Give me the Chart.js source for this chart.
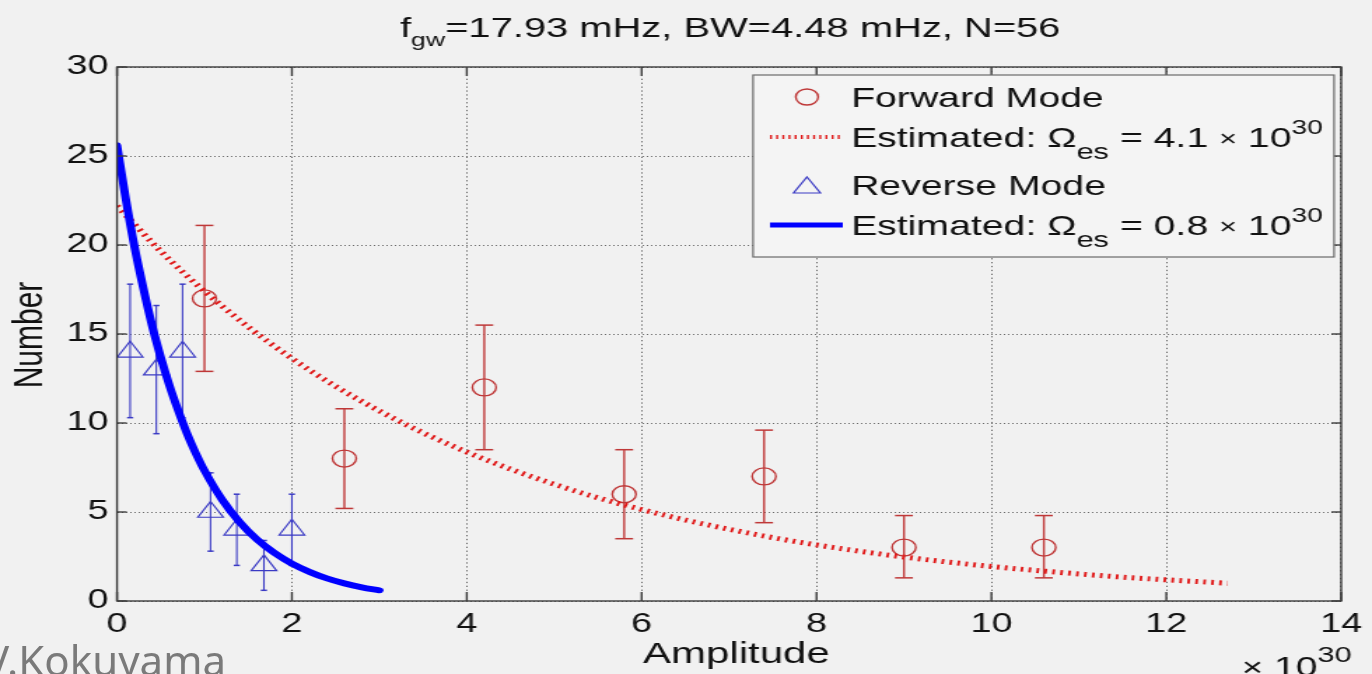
<!DOCTYPE html>
<html><head><meta charset="utf-8">
<script src="https://cdn.jsdelivr.net/npm/chart.js@4.4.1/dist/chart.umd.min.js"></script>
<style>
html,body{margin:0;padding:0;width:1372px;height:674px;overflow:hidden;background:#f1f1f1;}
#wrap{position:absolute;left:0;top:0;width:980px;height:674px;transform:scaleX(1.4);transform-origin:0 0;}
#c{display:block;}
#mark{position:absolute;left:-16px;top:639px;font-family:'Noto Sans',sans-serif;font-size:42px;line-height:42px;color:#7a7a7a;white-space:nowrap;}
</style></head><body>
<div id="wrap"><canvas id="c" width="980" height="674"></canvas></div>
<div id="mark">V.Kokuyama</div>
<script>
// ---- data ----
const forwardX    = [1.0, 2.6, 4.2, 5.8, 7.4, 9.0, 10.6];
const forwardY    = [17, 8, 12, 6, 7, 3, 3];
const forwardLow  = [12.9, 5.2, 8.5, 3.5, 4.4, 1.3, 1.3];
const forwardHigh = [21.1, 10.8, 15.5, 8.5, 9.6, 4.8, 4.8];

const reverseX    = [0.15, 0.45, 0.75, 1.07, 1.37, 1.68, 2.0];
const reverseY    = [14, 13, 14, 5, 4, 2, 4];
const reverseLow  = [10.3, 9.4, 10.3, 2.8, 2.0, 0.6, 2.0];
const reverseHigh = [17.8, 16.6, 17.8, 7.2, 6.0, 3.4, 6.0];

const fitForwardX = [0, 0.5, 1, 1.5, 2, 2.5, 3, 3.5, 4, 4.5, 5, 5.5, 6, 6.5, 7, 7.5, 8, 8.5, 9, 9.5, 10, 10.5, 11, 11.5, 12, 12.7];
const fitForwardY = [22.2, 19.65, 17.4, 15.4, 13.63, 12.06, 10.68, 9.45, 8.37, 7.41, 6.56, 5.8, 5.14, 4.55, 4.03, 3.56, 3.15, 2.79, 2.47, 2.19, 1.94, 1.72, 1.52, 1.34, 1.19, 1.0];

const fitReverseX = [0, 0.1, 0.2, 0.3, 0.4, 0.5, 0.6, 0.7, 0.8, 0.9, 1.0, 1.2, 1.4, 1.6, 1.8, 2.0, 2.2, 2.4, 2.6, 2.8, 3.0];
const fitReverseY = [25.6, 22.6, 19.9, 17.6, 15.5, 13.7, 12.1, 10.7, 9.42, 8.31, 7.33, 5.71, 4.45, 3.46, 2.7, 2.1, 1.64, 1.27, 0.99, 0.77, 0.6];

const xTickStep = 2, xMin = 0, xMax = 14;
const yTickStep = 5, yMin = 0, yMax = 30;

const titleMain = 'f';
const titleSub = 'gw';
const titleRest = '=17.93 mHz, BW=4.48 mHz, N=56';
const xTitle = 'Amplitude';
const yTitle = 'Number';
const legendLabels = ['Forward Mode', 'Estimated: \u03A9', 'Reverse Mode', 'Estimated: \u03A9'];
const legendOmega = ['4.1', '0.8'];

// ---- helpers ----
const FONT = "'Liberation Sans', Arial, sans-serif";
const zip = (xs, ys) => xs.map((v, i) => ({x: v, y: ys[i]}));
function runs(ctx, x, y, parts) {
  for (const [t, size, dy] of parts) {
    ctx.font = size + 'px ' + FONT;
    ctx.fillText(t, x, y + dy);
    x += ctx.measureText(t).width;
  }
  return x;
}
function seg(ctx, x1, y1, x2, y2) { ctx.beginPath(); ctx.moveTo(x1, y1); ctx.lineTo(x2, y2); ctx.stroke(); }

const RED_MK = '#bf3838', RED_FIT = '#e01818', BLUE_MK = '#3a3ac4', BLUE_FIT = '#0000ff';

const errorBars = {
  id: 'errorBars',
  beforeDatasetsDraw(chart) {
    const {ctx, scales: {x, y}} = chart;
    const sets = [
      {xs: forwardX, lo: forwardLow, hi: forwardHigh, color: RED_MK, w: 1.4, cap: 6.4},
      {xs: reverseX, lo: reverseLow, hi: reverseHigh, color: BLUE_MK, w: 1.1, cap: 2.2}
    ];
    ctx.save();
    for (const s of sets) {
      ctx.strokeStyle = s.color;
      s.xs.forEach((xv, i) => {
        const px = x.getPixelForValue(xv), pl = y.getPixelForValue(s.lo[i]), ph = y.getPixelForValue(s.hi[i]);
        ctx.lineWidth = s.w; seg(ctx, px, pl, px, ph);
        ctx.lineWidth = 1.5;
        seg(ctx, px - s.cap, pl, px + s.cap, pl);
        seg(ctx, px - s.cap, ph, px + s.cap, ph);
      });
    }
    ctx.restore();
  }
};

const frame = {
  id: 'frame',
  afterDatasetsDraw(chart) {
    const {ctx, chartArea: {left, right, top, bottom}, scales: {x, y}} = chart;
    ctx.save();
    ctx.strokeStyle = '#3c3c3c'; ctx.lineWidth = 1.4;
    ctx.strokeRect(left, top, right - left, bottom - top);
    x.ticks.forEach((t, i) => { const p = x.getPixelForTick(i); seg(ctx, p, bottom, p, bottom - 9); seg(ctx, p, top, p, top + 9); });
    y.ticks.forEach((t, i) => { const p = y.getPixelForTick(i); seg(ctx, left, p, left + 7, p); seg(ctx, right, p, right - 7, p); });
    ctx.restore();
  }
};

const texts = {
  id: 'texts',
  afterDraw(chart) {
    const ctx = chart.ctx;
    ctx.save();
    ctx.fillStyle = '#111';
    ctx.textBaseline = 'alphabetic'; ctx.textAlign = 'left';
    // title
    runs(ctx, 285.7, 37, [[titleMain, 28.5, 0], [titleSub, 19, 9], [titleRest, 28.5, 0]]);
    // x title
    ctx.textAlign = 'center';
    ctx.font = '30px ' + FONT;
    ctx.fillText(xTitle, 526, 663);
    // y title
    ctx.save();
    ctx.translate(22, 335); ctx.rotate(-Math.PI / 2);
    ctx.textBaseline = 'middle';
    ctx.fillText(yTitle, 0, 0);
    ctx.restore();
    // x 10^30
    ctx.textAlign = 'left';
    runs(ctx, 887, 676, [['\u00D7', 26, 0], [' 10', 28, 0], ['30', 22, -14]]);

    // legend
    const L = 537.9, R = 952.9, T = 75, B = 257;
    ctx.fillStyle = '#f4f4f4'; ctx.fillRect(L, T, R - L, B - T);
    ctx.strokeStyle = '#6a6a6a'; ctx.lineWidth = 1.2; ctx.strokeRect(L, T, R - L, B - T);
    const tx = 607.9, mx = 576.4;
    ctx.fillStyle = '#111';
    runs(ctx, tx, 107, [[legendLabels[0], 28, 0]]);
    runs(ctx, tx, 147, [[legendLabels[1], 28, 0], ['es', 22, 12], [' = ' + legendOmega[0] + ' ', 28, 0], ['\u00D7', 22, -1], [' 10', 28, 0], ['30', 20, -13]]);
    runs(ctx, tx, 195, [[legendLabels[2], 28, 0]]);
    runs(ctx, tx, 235, [[legendLabels[3], 28, 0], ['es', 22, 12], [' = ' + legendOmega[1] + ' ', 28, 0], ['\u00D7', 22, -1], [' 10', 28, 0], ['30', 20, -13]]);
    // legend markers
    ctx.strokeStyle = RED_MK; ctx.lineWidth = 1.4;
    ctx.beginPath(); ctx.arc(mx, 97, 8, 0, Math.PI * 2); ctx.stroke();
    ctx.strokeStyle = BLUE_MK; ctx.lineWidth = 1.2;
    ctx.beginPath(); ctx.moveTo(mx, 177); ctx.lineTo(mx + 9.6, 193); ctx.lineTo(mx - 9.6, 193); ctx.closePath(); ctx.stroke();
    ctx.strokeStyle = RED_FIT; ctx.lineWidth = 4; ctx.setLineDash([1.4, 3.0]);
    seg(ctx, 550, 137, 602, 137);
    ctx.setLineDash([]);
    ctx.strokeStyle = BLUE_FIT; ctx.lineWidth = 5;
    seg(ctx, 550, 225, 602, 225);
    ctx.restore();
  }
};

new Chart(document.getElementById('c'), {
  type: 'scatter',
  data: {
    datasets: [
      {label: 'fitReverse', data: zip(fitReverseX, fitReverseY), showLine: true, pointRadius: 0,
       borderColor: BLUE_FIT, borderWidth: 6, cubicInterpolationMode: 'monotone', borderCapStyle: 'round'},
      {label: 'fitForward', data: zip(fitForwardX, fitForwardY), showLine: true, pointRadius: 0,
       borderColor: RED_FIT, borderWidth: 5, borderDash: [1.9, 3.8], cubicInterpolationMode: 'monotone'},
      {label: 'Forward Mode', data: zip(forwardX, forwardY), pointStyle: 'circle', pointRadius: 8.5,
       borderColor: RED_MK, backgroundColor: 'rgba(0,0,0,0)', borderWidth: 1.4},
      {label: 'Reverse Mode', data: zip(reverseX, reverseY), pointStyle: 'triangle', pointRadius: 10.5,
       borderColor: BLUE_MK, backgroundColor: 'rgba(0,0,0,0)', borderWidth: 1.2}
    ]
  },
  options: {
    responsive: false, animation: false,
    layout: {padding: {left: 0, right: 17.86, top: 67, bottom: 0}},
    plugins: {legend: {display: false}, tooltip: {enabled: false}, title: {display: false}},
    scales: {
      x: {
        type: 'linear', min: xMin, max: xMax,
        ticks: {stepSize: xTickStep, autoSkip: false, maxRotation: 0, padding: 7, color: '#111', font: {family: FONT, size: 27}},
        grid: {color: '#6a6a6a', lineWidth: 1, drawTicks: false},
        border: {display: false, dash: [1.3, 2.6]},
        afterFit(s) { s.height = 73; }
      },
      y: {
        type: 'linear', min: yMin, max: yMax,
        ticks: {stepSize: yTickStep, padding: 6, color: '#111', font: {family: FONT, size: 27}},
        grid: {color: '#6a6a6a', lineWidth: 1, drawTicks: false},
        border: {display: false, dash: [1, 2]},
        afterFit(s) { s.width = 83.57; }
      }
    }
  },
  plugins: [errorBars, frame, texts]
});
</script></body></html>
